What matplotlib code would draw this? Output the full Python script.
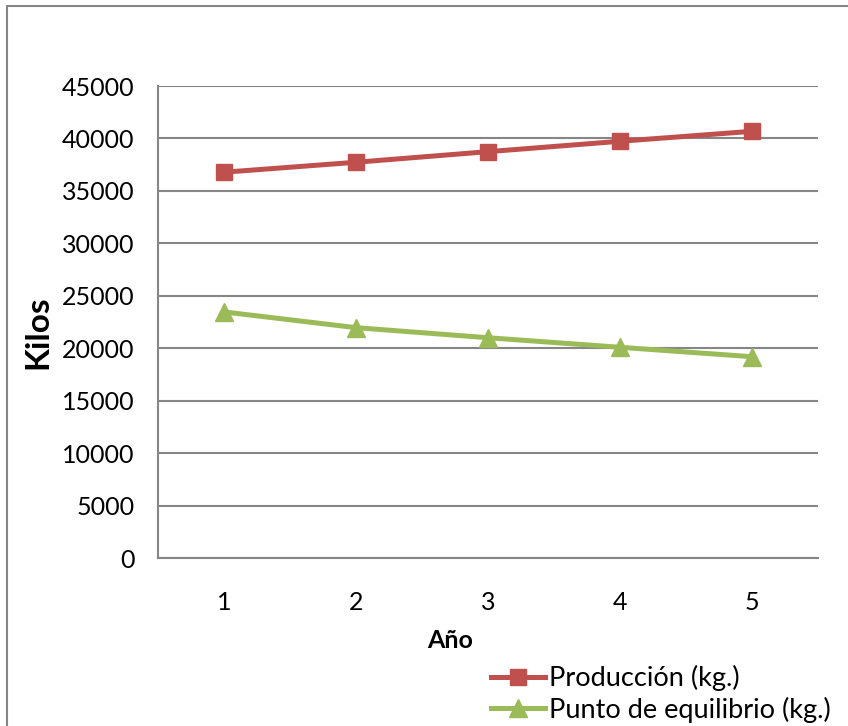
import matplotlib
matplotlib.use("Agg")
import matplotlib.pyplot as plt
from matplotlib.lines import Line2D
from matplotlib.patches import Rectangle

years = [1, 2, 3, 4, 5]
produccion = [36780, 37730, 38740, 39730, 40680]
equilibrio = [23460, 21960, 21000, 20090, 19190]
yticks = [0, 5000, 10000, 15000, 20000, 25000, 30000, 35000, 40000, 45000]

plt.rcParams['font.family'] = ['Lato', 'DejaVu Sans']

W, H = 848, 726
fig = plt.figure(figsize=(W/100, H/100), dpi=100)
fig.patches.append(Rectangle((7/W, -0.1), 2, 1 - 6/H + 0.1, transform=fig.transFigure,
                             fill=False, edgecolor='#868686', linewidth=1.5))

left, right, top, bottom = 158, 818, 86, 558
ax = fig.add_axes([left/W, 1 - bottom/H, (right-left)/W, (bottom-top)/H])

red = '#C0504D'
green = '#9BBB59'
ax.plot(years, produccion, color=red, lw=3.6, marker='s', ms=11.5, solid_capstyle='round')
ax.plot(years, equilibrio, color=green, lw=3.6, marker='^', ms=13.5, solid_capstyle='round')

ax.set_xlim(0.5, 5.5)
ax.set_ylim(0, 45000)
ax.set_yticks(yticks)
ax.set_yticklabels([str(v) for v in yticks])
ax.set_xticks(years)
ax.set_xticklabels([str(y) for y in years])
ax.yaxis.grid(True, color='#868686', linewidth=1.5)
ax.set_axisbelow(True)
ax.tick_params(length=0, labelsize=18, colors='black')
ax.tick_params(axis='y', pad=17)
ax.tick_params(axis='x', pad=24)
for s in ['top', 'right']:
    ax.spines[s].set_visible(False)
for s in ['left', 'bottom']:
    ax.spines[s].set_color('#868686')
    ax.spines[s].set_linewidth(1.5)

fig.text(38/W, 1 - 332/H, 'Kilos', rotation=90, fontsize=24, fontweight='bold',
         ha='center', va='center')
fig.text(450/W, 1 - 641/H, 'Año', fontsize=18, fontweight='bold', ha='center', va='center')

handles = [Line2D([], [], color=red, lw=3.6, marker='s', ms=11.5),
           Line2D([], [], color=green, lw=3.6, marker='^', ms=13.5)]
fig.legend(handles, ['Producción (kg.)', 'Punto de equilibrio (kg.)'],
           loc='upper left', bbox_to_anchor=(491/W, 1 - 665/H), frameon=False,
           fontsize=19.5, handlelength=2.0, handletextpad=0.15, labelspacing=0.2,
           borderpad=0, borderaxespad=0)

fig.savefig('out.png', dpi=100)
